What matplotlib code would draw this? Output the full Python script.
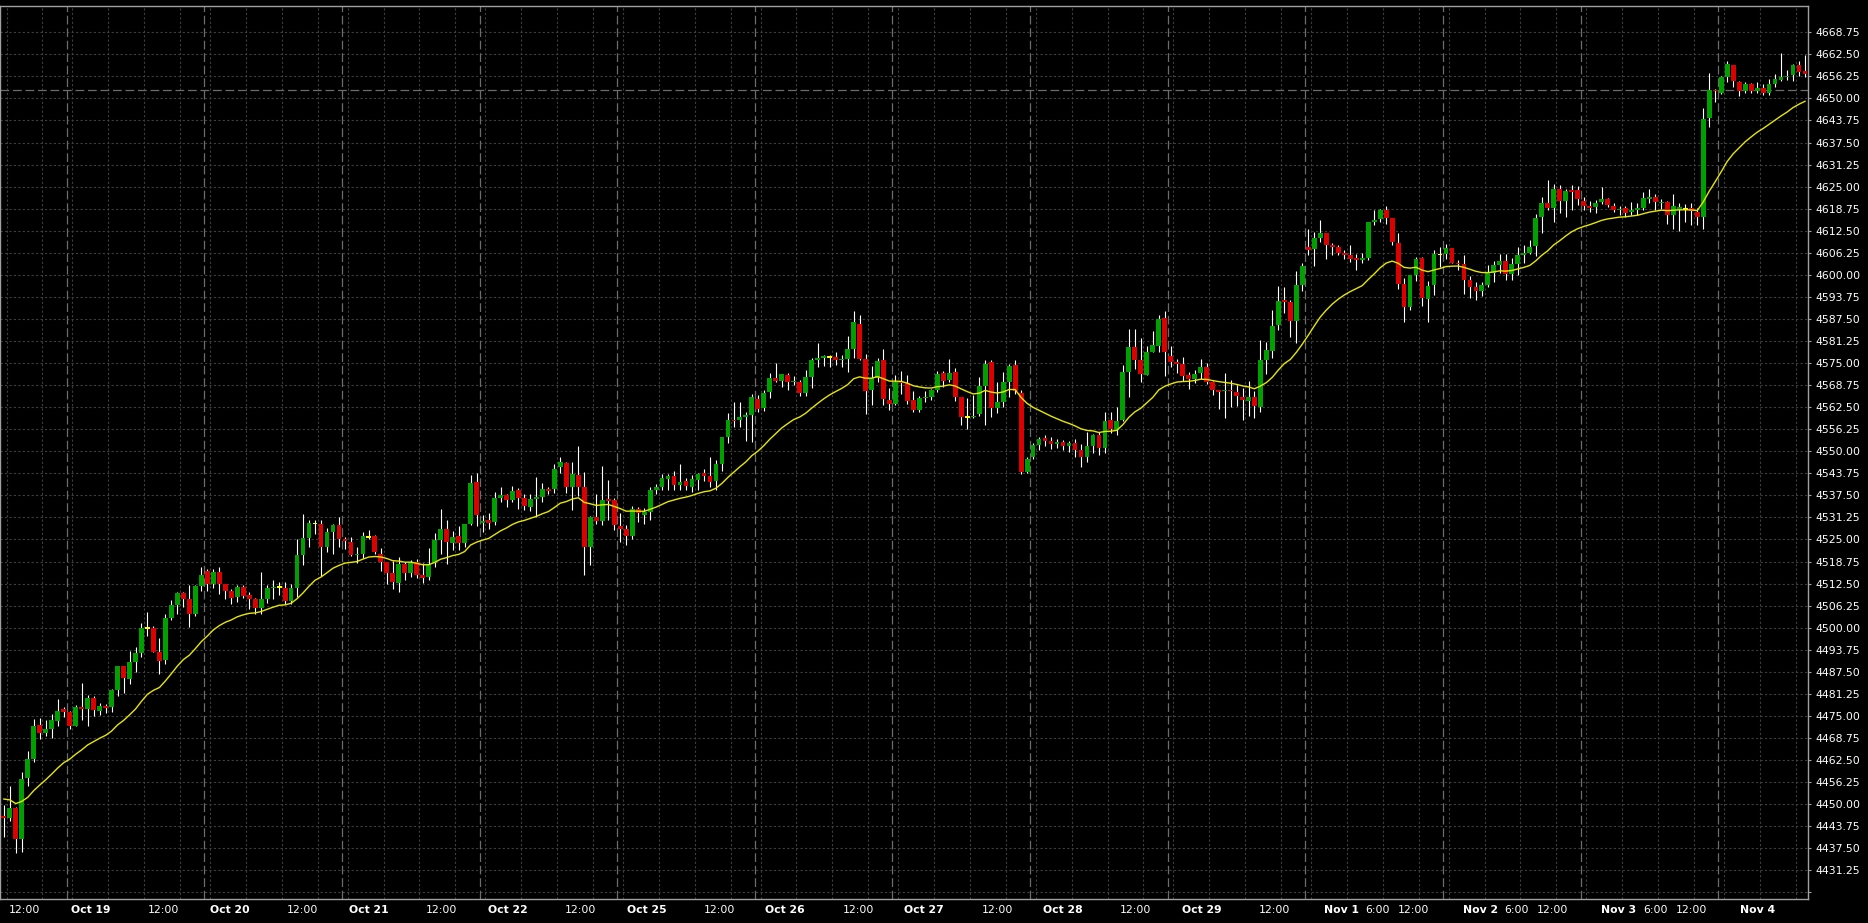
# hourly candlestick chart with a 20 period EMA, dark terminal style

# standard imports
import matplotlib
matplotlib.use('Agg')
from matplotlib import pyplot as plt
from matplotlib.transforms import blended_transform_factory
import numpy as np


# hourly candles, index 0 = first bar on the left
opens = [4446.5, 4446.0, 4449.0, 4440.0, 4457.5, 4462.75, 4472.5, 4470.25, 4471.25, 4473.5,
         4477.0, 4476.0, 4472.25, 4477.5, 4477.0, 4480.0, 4476.5, 4477.75, 4477.5, 4482.25,
         4489.0, 4485.5, 4490.25, 4492.75, 4500.0, 4500.0, 4493.0, 4490.75, 4502.75, 4506.5,
         4509.75, 4508.25, 4504.0, 4511.75, 4516.0, 4512.5, 4515.75, 4512.25, 4510.5, 4508.75,
         4511.5, 4509.25, 4508.0, 4505.5, 4508.25, 4511.25, 4511.5, 4511.25, 4507.5, 4511.25,
         4520.5, 4525.5, 4529.5, 4529.5, 4523.0, 4527.25, 4529.0, 4525.0, 4524.25, 4520.5,
         4521.0, 4525.75, 4526.0, 4521.0, 4518.75, 4515.5, 4512.75, 4518.0, 4515.5, 4518.5,
         4515.0, 4514.25, 4518.25, 4524.75, 4528.0, 4524.0, 4526.0, 4524.0, 4529.5, 4541.25,
         4529.75, 4530.5, 4530.0, 4536.75, 4537.5, 4536.25, 4539.0, 4536.75, 4534.25, 4536.5,
         4537.0, 4539.25, 4539.25, 4545.5, 4546.75, 4540.0, 4543.25, 4540.0, 4523.0, 4531.5,
         4530.25, 4536.5, 4536.25, 4528.75, 4528.0, 4526.0, 4533.5, 4532.0, 4532.75, 4539.0,
         4540.0, 4542.25, 4543.0, 4540.5, 4541.5, 4540.0, 4541.75, 4543.75, 4543.0, 4541.5,
         4546.5, 4554.0, 4559.0, 4559.0, 4559.75, 4560.25, 4564.75, 4562.25, 4566.75, 4570.75,
         4570.0, 4571.75, 4569.5, 4569.75, 4566.5, 4571.0, 4575.75, 4576.5, 4576.75, 4576.75,
         4575.75, 4576.25, 4579.0, 4586.0, 4576.25, 4567.25, 4570.75, 4575.75, 4564.5, 4563.5,
         4569.75, 4569.25, 4564.5, 4561.75, 4565.0, 4565.25, 4567.5, 4572.25, 4570.25, 4572.5,
         4565.25, 4559.75, 4559.75, 4560.5, 4568.5, 4575.25, 4562.25, 4564.0, 4569.75, 4574.5,
         4566.5, 4544.0, 4548.5, 4551.75, 4553.75, 4553.0, 4552.0, 4552.5, 4551.5, 4552.25,
         4550.5, 4548.5, 4551.5, 4554.5, 4551.0, 4558.75, 4556.0, 4558.75, 4572.5, 4579.5,
         4575.75, 4571.75, 4578.25, 4579.75, 4587.75, 4577.0, 4575.25, 4574.75, 4571.5, 4570.5,
         4572.25, 4574.0, 4569.75, 4567.5, 4567.0, 4567.5, 4566.75, 4565.5, 4564.25, 4565.5,
         4562.5, 4576.0, 4578.5, 4585.75, 4592.75, 4592.25, 4587.0, 4597.25, 4608.0, 4607.25,
         4610.5, 4611.75, 4608.5, 4608.0, 4606.25, 4605.75, 4604.75, 4604.25, 4604.75, 4615.0,
         4615.75, 4618.25, 4616.0, 4609.0, 4597.5, 4591.0, 4600.0, 4604.75, 4593.25, 4597.0,
         4605.75, 4606.0, 4607.5, 4603.5, 4603.0, 4598.5, 4596.5, 4595.5, 4597.25, 4600.5,
         4602.75, 4604.0, 4600.25, 4603.0, 4605.75, 4606.25, 4608.25, 4616.5, 4620.5, 4619.0,
         4624.25, 4621.0, 4624.0, 4624.0, 4621.0, 4619.5, 4619.25, 4620.75, 4621.5, 4619.5,
         4618.25, 4619.0, 4617.75, 4618.25, 4619.0, 4621.5, 4622.0, 4620.5, 4620.75, 4617.0,
         4618.5, 4618.75, 4619.0, 4617.75, 4616.5, 4644.5, 4652.5, 4651.5, 4656.0, 4659.5,
         4654.75, 4652.0, 4654.0, 4652.25, 4653.0, 4651.5, 4654.0, 4655.25, 4656.0, 4656.75,
         4659.5, 4657.75]
highs = [4449.75, 4455.0, 4449.25, 4459.0, 4465.0, 4474.25, 4474.5, 4473.75, 4475.5, 4479.75,
         4477.5, 4476.5, 4478.0, 4484.25, 4481.0, 4480.75, 4478.75, 4478.5, 4482.5, 4489.0,
         4489.0, 4493.5, 4494.5, 4501.25, 4504.5, 4500.5, 4497.0, 4504.0, 4507.75, 4510.0,
         4510.0, 4512.0, 4512.0, 4517.25, 4516.5, 4516.5, 4517.25, 4512.5, 4511.0, 4512.0,
         4512.0, 4510.25, 4508.5, 4515.75, 4512.0, 4513.5, 4513.0, 4513.0, 4512.5, 4525.0,
         4532.25, 4530.5, 4530.5, 4530.5, 4528.25, 4529.5, 4531.25, 4525.75, 4525.75, 4523.0,
         4527.25, 4527.75, 4526.25, 4522.5, 4518.75, 4519.0, 4520.0, 4518.75, 4519.25, 4519.5,
         4518.25, 4522.5, 4526.75, 4533.5, 4530.5, 4527.5, 4528.75, 4529.5, 4543.25, 4543.75,
         4532.0, 4532.5, 4538.5, 4540.0, 4538.0, 4540.25, 4539.5, 4538.0, 4538.0, 4542.75,
         4541.0, 4540.0, 4546.5, 4548.25, 4547.0, 4547.0, 4551.5, 4544.25, 4531.75, 4538.0,
         4545.75, 4541.75, 4536.75, 4532.5, 4529.0, 4534.5, 4534.25, 4534.0, 4540.0, 4540.75,
         4543.5, 4543.5, 4544.5, 4546.25, 4542.5, 4543.25, 4543.75, 4545.0, 4548.5, 4547.5,
         4554.0, 4560.75, 4564.0, 4564.0, 4561.0, 4566.25, 4566.0, 4567.5, 4572.25, 4575.0,
         4572.0, 4572.25, 4571.25, 4570.25, 4573.0, 4576.5, 4580.75, 4577.25, 4577.25, 4578.25,
         4577.25, 4582.75, 4589.75, 4588.5, 4577.5, 4574.25, 4576.5, 4579.0, 4568.0, 4571.5,
         4572.75, 4571.5, 4567.0, 4565.75, 4567.0, 4567.75, 4572.75, 4572.75, 4576.25, 4573.5,
         4565.5, 4565.0, 4566.0, 4571.0, 4575.75, 4575.75, 4569.5, 4572.5, 4574.75, 4576.0,
         4567.5, 4548.5, 4552.25, 4554.0, 4554.5, 4554.0, 4553.5, 4553.25, 4553.0, 4553.5,
         4552.0, 4555.5, 4555.0, 4555.5, 4561.25, 4561.0, 4562.5, 4574.5, 4584.75, 4584.75,
         4582.0, 4579.75, 4584.0, 4588.75, 4589.75, 4579.75, 4576.25, 4576.75, 4572.5, 4573.0,
         4576.25, 4575.0, 4570.0, 4567.5, 4572.25, 4570.25, 4568.75, 4568.0, 4570.0, 4567.0,
         4581.5, 4581.0, 4590.0, 4596.75, 4596.5, 4593.0, 4601.0, 4603.5, 4613.0, 4612.25,
         4615.5, 4612.0, 4609.0, 4608.5, 4607.0, 4608.5, 4606.0, 4606.25, 4615.0, 4618.25,
         4618.75, 4619.5, 4616.0, 4612.0, 4599.0, 4600.0, 4605.0, 4605.0, 4598.25, 4607.0,
         4608.0, 4608.75, 4607.5, 4604.25, 4605.5, 4599.75, 4598.0, 4598.0, 4602.75, 4604.0,
         4606.0, 4606.0, 4604.75, 4608.0, 4608.5, 4610.0, 4617.25, 4622.0, 4627.0, 4625.75,
         4625.5, 4624.25, 4625.5, 4625.25, 4622.0, 4621.0, 4621.25, 4625.0, 4621.75, 4620.25,
         4619.5, 4619.5, 4620.75, 4620.25, 4623.5, 4624.25, 4623.0, 4621.5, 4621.0, 4623.0,
         4620.5, 4620.0, 4620.5, 4619.0, 4647.25, 4657.25, 4652.75, 4656.5, 4660.5, 4659.5,
         4655.0, 4654.75, 4654.5, 4654.75, 4654.0, 4655.5, 4657.0, 4662.75, 4658.0, 4659.75,
         4660.5, 4662.25]
lows = [4440.75, 4445.25, 4436.0, 4436.5, 4455.0, 4462.0, 4468.5, 4469.25, 4468.75, 4472.0,
        4474.75, 4471.25, 4472.0, 4473.75, 4472.0, 4475.0, 4475.25, 4475.75, 4476.0, 4480.5,
        4481.5, 4484.0, 4487.5, 4491.75, 4497.5, 4493.0, 4487.0, 4489.75, 4502.25, 4504.0,
        4505.75, 4500.25, 4503.25, 4510.5, 4510.5, 4511.25, 4509.5, 4508.0, 4506.75, 4507.25,
        4508.5, 4505.25, 4504.0, 4503.75, 4507.0, 4508.25, 4509.25, 4506.75, 4506.75, 4508.75,
        4517.75, 4522.75, 4526.5, 4514.75, 4521.5, 4521.0, 4523.0, 4522.25, 4520.25, 4518.25,
        4519.75, 4525.0, 4521.0, 4516.0, 4512.5, 4511.0, 4510.0, 4513.5, 4514.5, 4514.0,
        4512.75, 4513.5, 4517.25, 4521.0, 4518.0, 4522.0, 4522.0, 4523.0, 4529.0, 4528.75,
        4527.0, 4528.0, 4529.0, 4535.5, 4534.25, 4535.5, 4533.75, 4533.25, 4533.0, 4531.5,
        4535.75, 4538.0, 4538.25, 4543.75, 4538.25, 4533.25, 4537.25, 4515.0, 4517.75, 4529.5,
        4529.0, 4530.5, 4527.75, 4524.25, 4523.5, 4525.0, 4530.0, 4529.5, 4530.5, 4538.0,
        4539.0, 4539.0, 4539.0, 4539.0, 4539.0, 4538.5, 4539.0, 4541.5, 4540.0, 4539.0,
        4544.5, 4552.25, 4557.0, 4557.0, 4553.0, 4552.5, 4561.25, 4561.5, 4565.0, 4569.5,
        4568.25, 4567.5, 4568.75, 4565.75, 4565.75, 4568.0, 4573.75, 4574.25, 4573.75, 4574.5,
        4573.75, 4572.5, 4576.5, 4576.0, 4560.5, 4563.0, 4569.75, 4563.0, 4561.75, 4563.0,
        4566.25, 4563.5, 4561.0, 4561.25, 4564.0, 4564.5, 4566.75, 4568.25, 4569.5, 4564.25,
        4557.5, 4556.25, 4559.5, 4560.0, 4557.5, 4559.75, 4560.75, 4562.5, 4565.5, 4566.25,
        4543.5, 4543.75, 4547.75, 4550.5, 4551.5, 4550.75, 4551.0, 4550.5, 4549.75, 4548.5,
        4545.5, 4547.0, 4549.5, 4549.0, 4549.5, 4555.25, 4554.5, 4558.5, 4565.25, 4573.25,
        4569.75, 4571.5, 4578.0, 4578.25, 4571.25, 4574.0, 4572.25, 4570.0, 4567.75, 4569.25,
        4570.5, 4569.0, 4566.0, 4562.0, 4559.5, 4562.5, 4562.75, 4558.75, 4560.0, 4559.5,
        4561.0, 4572.0, 4576.5, 4584.25, 4589.25, 4582.5, 4580.75, 4595.5, 4605.75, 4602.5,
        4609.25, 4604.5, 4605.5, 4605.5, 4604.5, 4603.75, 4601.25, 4603.25, 4604.25, 4614.0,
        4615.0, 4614.5, 4608.5, 4596.0, 4586.5, 4590.0, 4598.25, 4591.25, 4586.5, 4594.25,
        4602.25, 4604.5, 4603.25, 4601.5, 4594.5, 4593.5, 4593.0, 4594.0, 4596.5, 4598.0,
        4600.5, 4598.5, 4598.5, 4600.0, 4603.5, 4606.0, 4605.25, 4611.75, 4618.5, 4615.0,
        4617.5, 4616.5, 4618.5, 4619.75, 4618.5, 4617.75, 4617.5, 4620.0, 4619.25, 4617.75,
        4617.0, 4616.5, 4617.0, 4617.0, 4618.25, 4620.5, 4618.25, 4618.75, 4614.5, 4613.0,
        4612.5, 4615.0, 4614.25, 4614.0, 4613.0, 4642.0, 4649.0, 4651.25, 4654.75, 4653.25,
        4650.75, 4651.5, 4651.5, 4651.5, 4651.0, 4651.0, 4653.25, 4655.0, 4655.25, 4655.0,
        4656.25, 4656.0]
closes = [4446.0, 4449.0, 4440.0, 4457.0, 4462.75, 4472.0, 4470.25, 4471.25, 4473.75, 4476.5,
          4476.0, 4472.25, 4477.5, 4477.0, 4480.0, 4476.75, 4477.75, 4477.25, 4482.25, 4489.0,
          4485.75, 4490.25, 4492.75, 4500.0, 4500.0, 4493.0, 4490.5, 4502.75, 4506.5, 4509.75,
          4508.25, 4504.0, 4511.75, 4515.0, 4512.5, 4515.75, 4512.25, 4510.5, 4508.5, 4511.5,
          4509.0, 4508.0, 4505.5, 4508.25, 4511.25, 4511.5, 4511.5, 4507.5, 4511.25, 4520.5,
          4525.5, 4529.75, 4529.5, 4523.0, 4527.25, 4529.0, 4525.0, 4524.5, 4520.5, 4521.0,
          4526.0, 4525.75, 4521.5, 4518.75, 4515.5, 4513.0, 4518.0, 4515.5, 4518.75, 4515.0,
          4514.0, 4518.0, 4524.75, 4528.0, 4524.25, 4525.75, 4524.0, 4529.25, 4541.0, 4532.0,
          4530.25, 4529.75, 4536.75, 4537.5, 4536.25, 4538.75, 4536.75, 4534.5, 4536.5, 4537.0,
          4539.25, 4538.75, 4545.0, 4547.0, 4540.0, 4543.5, 4540.0, 4523.0, 4531.5, 4530.25,
          4536.25, 4536.0, 4529.0, 4528.0, 4526.0, 4533.5, 4532.5, 4532.75, 4539.0, 4540.0,
          4542.5, 4543.0, 4540.5, 4541.25, 4540.25, 4542.0, 4543.5, 4543.0, 4541.25, 4546.5,
          4554.0, 4558.75, 4558.5, 4559.75, 4560.25, 4565.5, 4562.0, 4566.5, 4570.75, 4570.0,
          4572.0, 4569.5, 4570.0, 4566.5, 4571.0, 4575.75, 4576.5, 4577.0, 4576.75, 4575.75,
          4576.25, 4579.0, 4586.5, 4576.25, 4567.0, 4570.75, 4575.5, 4564.75, 4563.5, 4569.75,
          4569.25, 4564.25, 4561.75, 4565.0, 4565.5, 4567.5, 4572.0, 4570.0, 4572.25, 4565.25,
          4559.75, 4559.75, 4560.0, 4568.5, 4574.75, 4562.25, 4564.0, 4569.75, 4574.25, 4567.0,
          4544.0, 4547.75, 4551.75, 4553.5, 4553.0, 4552.0, 4552.5, 4551.5, 4552.25, 4550.5,
          4548.5, 4551.5, 4554.5, 4551.0, 4558.5, 4556.25, 4558.5, 4572.5, 4579.5, 4575.75,
          4572.0, 4578.25, 4580.0, 4587.5, 4578.25, 4575.25, 4574.75, 4571.25, 4570.5, 4572.0,
          4574.0, 4569.75, 4567.25, 4566.75, 4567.5, 4567.0, 4565.75, 4564.5, 4565.5, 4562.75,
          4576.0, 4578.75, 4585.5, 4592.5, 4592.25, 4587.0, 4597.25, 4602.5, 4607.0, 4610.5,
          4612.0, 4608.5, 4608.0, 4606.25, 4605.5, 4604.5, 4604.25, 4604.75, 4615.0, 4615.5,
          4618.5, 4616.0, 4609.25, 4597.5, 4591.0, 4600.0, 4604.5, 4593.5, 4596.75, 4606.0,
          4605.75, 4607.5, 4603.5, 4603.0, 4598.5, 4596.5, 4595.5, 4597.25, 4600.5, 4602.75,
          4604.0, 4600.25, 4603.0, 4605.75, 4606.25, 4608.0, 4616.25, 4620.5, 4619.0, 4624.25,
          4621.0, 4623.75, 4623.5, 4621.5, 4619.5, 4619.0, 4620.5, 4621.5, 4619.75, 4618.5,
          4618.75, 4617.5, 4618.5, 4619.0, 4621.75, 4622.0, 4620.75, 4620.75, 4617.0, 4619.5,
          4619.25, 4618.75, 4618.0, 4616.5, 4644.25, 4652.5, 4652.0, 4656.0, 4659.75, 4655.0,
          4652.0, 4654.0, 4652.25, 4653.0, 4651.5, 4654.0, 4655.5, 4656.0, 4656.5, 4659.5,
          4657.5, 4657.0]

# moving average settings (value carried in from before the first bar)
ema_period = 20
ema_seed = 4452.0

# horizontal price level drawn as dashed line
level_price = 4652.5

# session layout: first bar of the first full session, bars per session
first_session = 11
session_len = 23

day_labels = ['Oct 19', 'Oct 20', 'Oct 21', 'Oct 22', 'Oct 25', 'Oct 26', 'Oct 27',
              'Oct 28', 'Oct 29', 'Nov 1', 'Nov 2', 'Nov 3', 'Nov 4']
six_labels = ['Nov 1', 'Nov 2', 'Nov 3']   # days that also get a 6:00 label

# price ticks
tick_lo = 4425.0
tick_hi = 4668.75
tick_step = 6.25


o = np.array(opens)
h = np.array(highs)
l = np.array(lows)
c = np.array(closes)
x = np.arange(len(c))

# exponential moving average of the closes
alpha = 2.0/(ema_period+1)
ema = []
prev = ema_seed
for val in c:
    prev = prev + alpha*(val-prev)
    ema.append(prev)

bg = '#000000'
fig = plt.figure(figsize=(18.68, 9.23), dpi=100, facecolor=bg)
ax = fig.add_axes([0, 24/923, 1808/1868, 893/923], facecolor=bg)

xmin, xmax = -0.647, 301.5
ax.set_xlim(xmin, xmax)
ax.set_ylim(4423.1, 4676.2)

# horizontal grid
yt = np.arange(tick_lo, tick_hi+0.01, tick_step)
for y in yt:
    ax.axhline(y, color='#3e3e3e', lw=0.8, ls=(0, (2, 2)), zorder=0)

# session separators (dashed) and 6 hour grid (dotted)
s = first_session - session_len
while s < xmax + session_len:
    if xmin < s-0.5 < xmax:
        ax.axvline(s-0.5, color='#6c6c6c', lw=0.9, ls=(0, (7, 3)), zorder=0)
    for k in range(4):
        g = s + 0.45 + 6*k
        if xmin < g < xmax:
            ax.axvline(g, color='#3e3e3e', lw=0.8, ls=(0, (2, 2)), zorder=0)
    s += session_len

ax.axhline(level_price, color='#6c6c6c', lw=0.9, ls=(0, (7, 3)), zorder=0)

# wicks
ax.vlines(x, l, h, color='white', lw=0.8, zorder=2)

# bodies
up = c > o
down = c < o
flat = c == o
ax.bar(x[up], (c-o)[up], bottom=o[up], width=0.8, color='#00a000', zorder=3)
ax.bar(x[down], (c-o)[down], bottom=o[down], width=0.8, color='#dd0000', zorder=3)
ax.bar(x[flat], 0.5, bottom=o[flat]-0.25, width=0.8, color='#ffff00', zorder=3)

# moving average
ax.plot(x, ema, color='#e6e600', lw=1.0, zorder=4)

# frame
for sp in ax.spines.values():
    sp.set_color('#a0a0a0')
    sp.set_linewidth(1.0)

# price axis on the right
ax.yaxis.tick_right()
ax.set_yticks(yt)
ax.set_yticklabels([''] + ['%.2f' % v for v in yt[1:]])
ax.tick_params(axis='y', colors='#a0a0a0', labelcolor='white', labelsize=7.8,
               length=2, pad=3)
ax.set_xticks([])

# time labels under the chart
trans = blended_transform_factory(ax.transData, ax.transAxes)
day_step = 23.22
first_day = 14.5
for k, lab in enumerate(day_labels):
    d = first_day + day_step*k
    ax.text(d, -0.0125, lab, transform=trans, color='white', fontsize=7.8,
            fontweight='bold', ha='center', va='center')
    if lab in six_labels:
        ax.text(d+6.1, -0.0125, '6:00', transform=trans, color='white', fontsize=7.8,
                ha='center', va='center')
for k in range(-1, len(day_labels)):
    n = first_day + day_step*k + 12.15
    if xmin < n < xmax-3:
        ax.text(n, -0.0125, '12:00', transform=trans, color='white', fontsize=7.8,
                ha='center', va='center')

plt.savefig('out.png', dpi=100, facecolor=bg)
plt.close()
